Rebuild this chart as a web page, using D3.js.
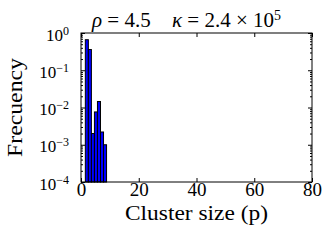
<!DOCTYPE html>
<html>
<head>
<meta charset="utf-8">
<script src="https://cdn.jsdelivr.net/npm/d3@7"></script>
<style>
  body { margin: 0; background: #fff; }
</style>
</head>
<body>
<div class="chart"></div>
<script>
// Data
const binEdges = [1.5, 2.55, 3.6, 4.65, 5.7, 6.75, 7.8, 8.85];
const frequency = [0.66, 0.36, 0.002, 0.0076, 0.0145, 0.0022, 0.001];
const xTicks = [0, 20, 40, 60, 80];
const yTickExps = [0, -1, -2, -3, -4];

const FONT = 'Liberation Serif, serif';
const svg_width = 332;
const svg_height = 243;
const margin = { top: 33, right: 20, bottom: 61, left: 81 };
const width = svg_width - margin.left - margin.right;
const height = svg_height - margin.top - margin.bottom;

const svg = d3.select('.chart').append('svg')
    .attr('width', svg_width).attr('height', svg_height);
const g = svg.append('g')
    .attr('transform', `translate(${margin.left},${margin.top})`);

const x = d3.scaleLinear([0, 80], [0, width]);
const y = d3.scaleLog([1e-4, 1], [height, 0]);

// bars
const bins = frequency.map((f, i) => ({ x0: binEdges[i], x1: binEdges[i + 1], f }));
g.selectAll('.bar').data(bins).join('rect').attr('class', 'bar')
    .attr('x', d => x(d.x0))
    .attr('width', d => x(d.x1) - x(d.x0))
    .attr('y', d => y(d.f))
    .attr('height', d => height - y(d.f))
    .style('fill', '#0000ff')
    .style('stroke', '#000')
    .style('stroke-width', 1);

// minor ticks for log axis
const minor = [];
yTickExps.slice(1).forEach(e => {
    for (let k = 2; k <= 9; k++) minor.push(k * Math.pow(10, e));
});
const major = yTickExps.map(e => Math.pow(10, e));

// x axes (inward ticks)
const xAxis = d3.axisBottom(x).tickValues(xTicks).tickSizeInner(-4).tickSizeOuter(0).tickPadding(0);
const xAxisDraw = g.append('g').attr('transform', `translate(0,${height})`).call(xAxis);
xAxisDraw.selectAll('text')
    .attr('font-family', FONT).style('font-size', '19px')
    .attr('dy', null).attr('y', 14);
g.append('g')
    .call(d3.axisTop(x).tickValues(xTicks).tickSizeInner(-4).tickSizeOuter(0).tickFormat(''));

// y axes
const yAxis = d3.axisLeft(y).tickValues(major).tickSizeInner(-4).tickSizeOuter(0).tickPadding(12)
    .tickFormat(() => '');
const yAxisDraw = g.append('g').call(yAxis);
yAxisDraw.selectAll('.tick text').each(function (d) {
    const e = Math.round(Math.log10(d));
    const t = d3.select(this).attr('font-family', FONT).style('font-size', '17px').attr('dy', '0.42em');
    t.append('tspan').text('10');
    t.append('tspan').text(e === 0 ? '0' : '\u2212' + (-e))
        .attr('dy', '-0.5em').style('font-size', '12px');
});
g.append('g').call(d3.axisLeft(y).tickValues(minor).tickSizeInner(-2).tickSizeOuter(0).tickFormat(''));
g.append('g').attr('transform', `translate(${width},0)`)
    .call(d3.axisRight(y).tickValues(major).tickSizeInner(-4).tickSizeOuter(0).tickFormat(''));
g.append('g').attr('transform', `translate(${width},0)`)
    .call(d3.axisRight(y).tickValues(minor).tickSizeInner(-2).tickSizeOuter(0).tickFormat(''));

g.selectAll('.domain').remove();
g.selectAll('.tick line').attr('stroke', '#000');

// frame
g.append('rect').attr('width', width).attr('height', height)
    .style('fill', 'none').style('stroke', '#000').style('stroke-width', 1);

// labels
svg.append('text')
    .attr('x', margin.left + width / 2).attr('y', 220)
    .attr('text-anchor', 'middle').attr('font-family', FONT).style('font-size', '21px')
    .attr('textLength', 143).attr('lengthAdjust', 'spacingAndGlyphs')
    .text('Cluster size (p)');
svg.append('text')
    .attr('transform', `translate(22,${margin.top + height / 2}) rotate(-90)`)
    .attr('text-anchor', 'middle').attr('font-family', FONT).style('font-size', '22px')
    .attr('textLength', 99).attr('lengthAdjust', 'spacingAndGlyphs')
    .text('Frecuency');

const t1 = svg.append('text')
    .attr('x', 92).attr('y', 27)
    .attr('font-family', FONT).style('font-size', '21px');
t1.append('tspan').style('font-style', 'italic').text('\u03c1');
t1.append('tspan').text(' = 4.5');

const t2 = svg.append('text')
    .attr('x', 172).attr('y', 27)
    .attr('font-family', FONT).style('font-size', '21px');
t2.append('tspan').style('font-style', 'italic').text('\u03ba');
t2.append('tspan').text(' = 2.4 \u00d7 10');
t2.append('tspan').text('5').attr('dy', '-0.5em').style('font-size', '14px');
</script>
</body>
</html>
